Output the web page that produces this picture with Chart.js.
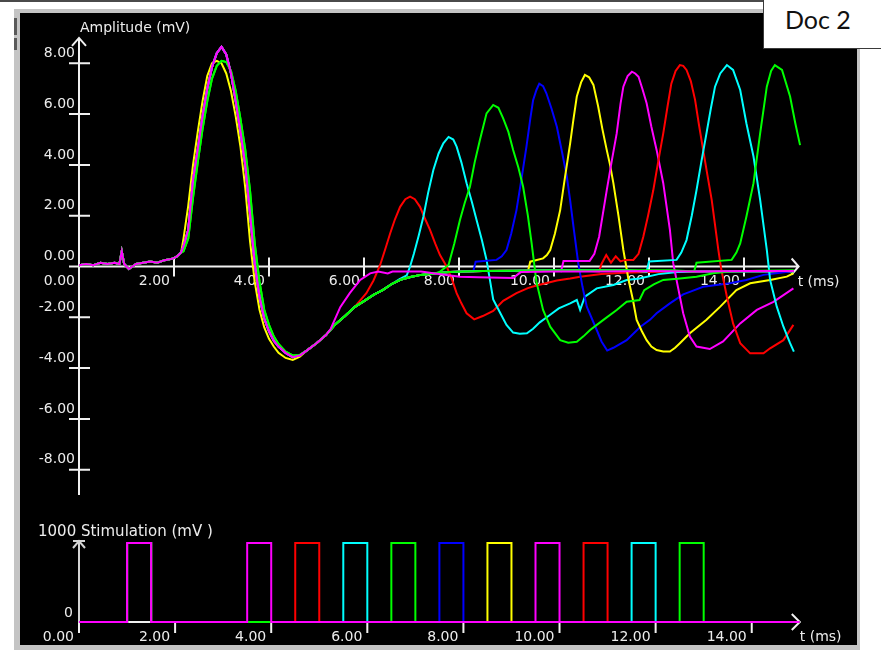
<!DOCTYPE html>
<html>
<head>
<meta charset="utf-8">
<script src="https://cdn.jsdelivr.net/npm/chart.js@4.4.1/dist/chart.umd.min.js"></script>
<style>
  html, body { margin: 0; padding: 0; background: #fff; }
  body { width: 881px; height: 658px; position: relative; overflow: hidden; }
  #topLine { position: absolute; left: 0; top: 0; width: 763px; height: 2px; background: #4a4a4a; }
  #panel { position: absolute; left: 14px; top: 9px; width: 837px; height: 632px; background: #000;
           border-style: solid; border-color: #c4c4c4; border-width: 4px 3px 5px 6px; }
  .grip { position: absolute; left: 14px; width: 3px; background: #5a5a5a; }
  #doc { position: absolute; left: 763px; top: 0; width: 118px; height: 49px; background: #fff;
         border-left: 1px solid #3a3a3a; border-bottom: 1px solid #3a3a3a; box-sizing: border-box; }
  #doc span { position: absolute; left: 21px; top: 7px; font: 25px Lato, "Noto Sans", sans-serif; line-height: 25px; color: #111; }
  canvas { position: absolute; left: 0; top: 0; }
</style>
</head>
<body>
<div id="topLine"></div>
<div id="panel"></div>
<div class="grip" style="top:18px;height:17px"></div>
<div class="grip" style="top:38px;height:12px"></div>
<div id="doc"><span>Doc 2</span></div>
<canvas id="ampChart" width="881" height="658"></canvas>
<canvas id="stimChart" width="881" height="658"></canvas>
<script>
// axes
const timeTicks = [0, 2, 4, 6, 8, 10, 12, 14];
const ampTicks = [-8, -6, -4, -2, 0, 2, 4, 6, 8];
const stimTicks = [0, 1000];

// first response, shared by every sweep (t in ms, mV)
const firstT = [0, 0.15, 0.3, 0.45, 0.6, 0.75, 0.85, 0.9, 0.95, 1.05,
  1.2, 1.35, 1.5, 1.65, 1.8, 1.95, 2.05, 2.15, 2.2, 2.3,
  2.4, 2.5, 2.6, 2.7, 2.8, 2.9, 3.0, 3.1, 3.2, 3.3,
  3.4, 3.5, 3.6, 3.7, 3.8, 3.9, 4.0, 4.1, 4.2, 4.35,
  4.5, 4.65, 4.8, 5.0, 5.2, 5.4, 5.6, 5.8, 6.0, 6.2,
  6.4, 6.6, 6.8, 7.0, 7.2, 7.5, 7.8, 8.1, 8.5, 9.0,
  9.5, 10.0, 10.5, 11.0, 11.5, 12.0, 12.5, 13.0];
const firstV = [0.05, 0.1, 0.05, 0.15, 0.1, 0.15, 0.1, 0.6, 0.1, -0.1,
  0.1, 0.15, 0.2, 0.15, 0.25, 0.3, 0.38, 0.55, 0.8, 1.45,
  3.4, 4.6, 5.9, 7.0, 7.85, 8.4, 8.65, 8.35, 7.6, 6.5,
  5.3, 4.0, 2.1, 0.1, -1.2, -2.05, -2.55, -2.92, -3.15, -3.4,
  -3.57, -3.5, -3.3, -3.02, -2.7, -2.27, -1.95, -1.6, -1.36, -1.12,
  -0.92, -0.67, -0.5, -0.4, -0.33, -0.27, -0.22, -0.2, -0.18, -0.17,
  -0.16, -0.15, -0.15, -0.15, -0.15, -0.15, -0.15, -0.15];

// yellow and green sweeps fire a little early / late
const spikeT = [2.2, 2.3, 2.4, 2.5, 2.6, 2.7, 2.8, 2.9, 3.0, 3.1, 3.2, 3.3, 3.4, 3.5, 3.6, 3.7, 3.8, 3.9, 4.0, 4.1, 4.2, 4.35, 4.5, 4.65];
const spikeYellowV = [1.1, 2.4, 4.0, 5.3, 6.5, 7.5, 8.0, 8.1, 8.0, 7.6, 6.9, 5.9, 4.7, 3.1, 1.0, -0.6, -1.7, -2.4, -2.85, -3.15, -3.4, -3.6, -3.68, -3.55];
const spikeGreenV = [0.6, 1.1, 2.7, 4.1, 5.4, 6.5, 7.4, 7.9, 8.1, 8.05, 7.7, 6.9, 5.8, 4.6, 3.0, 0.9, -0.6, -1.7, -2.3, -2.75, -3.05, -3.35, -3.5, -3.48];

// second response of each sweep
const magenta1T = [5.3, 5.5, 5.7, 5.92, 6.13, 6.3, 6.5, 6.6, 7.2, 7.46, 7.74, 8.02, 8.4, 9.14, 9.3, 10, 11, 12, 13, 14, 15.05];
const magenta1V = [-2.45, -1.6, -1.05, -0.53, -0.27, -0.2, -0.27, -0.2, -0.2, -0.27, -0.33, -0.4, -0.42, -0.45, -0.22, -0.2, -0.2, -0.18, -0.2, -0.18, -0.18];

const red1T = [5.8, 6.05, 6.2, 6.34, 6.45, 6.55, 6.65, 6.76, 6.87, 6.97, 7.07, 7.18, 7.28, 7.39, 7.5, 7.6, 7.74, 7.85, 7.95, 8.05,
  8.16, 8.32, 8.5, 8.72, 8.93, 9.21, 9.45, 9.63, 9.85, 10.06, 10.34, 10.55, 11, 11.5, 12, 13, 14, 15.05];
const red1V = [-1.6, -1.05, -0.55, 0.06, 0.7, 1.3, 1.85, 2.35, 2.65, 2.75, 2.65, 2.35, 1.9, 1.44, 0.9, 0.45, 0.0, -0.5, -1.05, -1.45,
  -1.84, -2.08, -1.95, -1.75, -1.35, -1.05, -0.85, -0.75, -0.65, -0.55, -0.47, -0.4, -0.3, -0.25, -0.22, -0.2, -0.2, -0.2];

const cyan1T = [6.75, 6.9, 6.97, 7.05, 7.15, 7.25, 7.35, 7.46, 7.57, 7.67, 7.78, 7.88, 7.95, 8.05, 8.16, 8.27, 8.37, 8.48, 8.58, 8.72,
  8.86, 9.0, 9.14, 9.28, 9.43, 9.56, 9.7, 9.92, 10.1, 10.34, 10.48, 10.55, 10.65, 10.9, 11.25, 11.53, 11.8, 12.2, 12.6, 13, 14, 15.05];
const cyan1V = [-0.5, -0.35, 0, 0.5, 1.2, 1.96, 2.9, 3.8, 4.45, 4.85, 5.1, 5.0, 4.72, 4.1, 3.28, 2.55, 1.83, 1.05, 0.26, -1.3,
  -1.8, -2.3, -2.6, -2.65, -2.63, -2.45, -2.2, -1.9, -1.65, -1.45, -1.32, -1.71, -1.19, -0.86, -0.73, -0.53, -0.47, -0.3, -0.22, -0.2, -0.2, -0.2];

const green1T = [7.6, 7.78, 7.9, 8.02, 8.12, 8.23, 8.33, 8.44, 8.58, 8.72, 8.83, 8.93, 9.04, 9.14, 9.25, 9.35, 9.45, 9.53, 9.63, 9.77,
  9.92, 10.13, 10.3, 10.48, 10.62, 10.76, 11.04, 11.32, 11.53, 11.8, 11.9, 12.1, 12.3, 12.65, 13.0, 13.35, 13.7, 14.3, 15.05];
const green1V = [-0.2, 0.06, 0.9, 1.83, 2.5, 3.14, 4.1, 4.98, 6.03, 6.36, 6.25, 5.83, 5.3, 4.59, 3.9, 3.14, 2.0, 0.9, -0.6, -1.71,
  -2.37, -2.9, -3.0, -2.96, -2.75, -2.5, -2.1, -1.71, -1.39, -1.32, -0.93, -0.7, -0.53, -0.47, -0.4, -0.27, -0.2, -0.17, -0.15];

const blue1T = [8.3, 8.35, 8.79, 8.9, 9.0, 9.1, 9.21, 9.32, 9.42, 9.5, 9.56, 9.63, 9.69, 9.77, 9.84, 9.95, 10.06, 10.17, 10.27, 10.34,
  10.41, 10.51, 10.6, 10.69, 10.9, 11.0, 11.12, 11.25, 11.53, 11.82, 12.02, 12.16, 12.44, 12.72, 12.86, 13.14, 13.7, 14.05, 14.41, 14.97];
const blue1V = [-0.2, 0.19, 0.26, 0.4, 0.65, 1.3, 2.22, 3.5, 4.72, 5.8, 6.55, 6.95, 7.2, 7.1, 6.82, 6.2, 5.5, 4.5, 3.54, 2.6,
  1.57, 0.13, -0.8, -1.58, -2.5, -2.95, -3.31, -3.2, -2.9, -2.37, -2.1, -1.84, -1.45, -1.1, -1.0, -0.8, -0.66, -0.53, -0.33, -0.2];

const yellow1T = [9.45, 9.5, 9.77, 9.85, 9.92, 10.02, 10.13, 10.23, 10.34, 10.41, 10.48, 10.57, 10.65, 10.74, 10.83, 10.93, 11.02, 11.11, 11.18, 11.25,
  11.36, 11.46, 11.57, 11.66, 11.74, 11.85, 11.95, 12.05, 12.16, 12.3, 12.44, 12.55, 12.65, 12.86, 13.21, 13.5, 13.84, 14.13, 14.55, 14.9, 15.04];
const yellow1V = [-0.2, 0.19, 0.32, 0.45, 0.65, 1.3, 2.22, 3.5, 4.85, 5.8, 6.69, 7.25, 7.54, 7.45, 7.15, 6.3, 5.4, 4.59, 4.0, 3.28,
  1.96, 0.65, -0.53, -1.3, -2.1, -2.55, -2.9, -3.15, -3.29, -3.35, -3.35, -3.2, -3.02, -2.63, -2.1, -1.58, -0.93, -0.66, -0.53, -0.4, -0.27];

const magenta2T = [10.15, 10.2, 10.75, 10.85, 10.95, 11.11, 11.22, 11.32, 11.4, 11.46, 11.55, 11.64, 11.71, 11.78, 11.86, 11.95, 12.05, 12.16, 12.3, 12.44,
  12.51, 12.58, 12.72, 12.86, 13.0, 13.28, 13.56, 13.92, 14.27, 14.62, 15.04];
const magenta2V = [-0.18, 0.22, 0.22, 0.5, 1.17, 3.0, 4.2, 5.24, 6.4, 7.08, 7.5, 7.67, 7.6, 7.47, 7.0, 6.43, 5.5, 4.59, 3.28, 1.44,
  0.13, -0.53, -1.84, -2.76, -3.15, -3.25, -2.95, -2.24, -1.71, -1.39, -0.86];

const red2T = [10.95, 11.0, 11.1, 11.2, 11.3, 11.4, 11.5, 11.67, 11.78, 11.88, 11.98, 12.09, 12.2, 12.3, 12.39, 12.47, 12.56, 12.65, 12.72, 12.79,
  12.88, 12.97, 13.05, 13.14, 13.23, 13.32, 13.46, 13.52, 13.64, 13.77, 13.92, 14.13, 14.41, 14.55, 14.83, 15.04];
const red2V = [-0.2, 0.1, 0.45, 0.15, 0.4, 0.2, 0.26, 0.26, 0.5, 1.17, 2.0, 3.0, 4.2, 5.24, 6.3, 7.2, 7.7, 7.93, 7.9, 7.74,
  7.3, 6.56, 5.6, 4.59, 3.6, 2.62, 0.65, -0.1, -1.19, -2.24, -3.02, -3.42, -3.42, -3.22, -2.9, -2.3];

const cyan2T = [11.95, 12.0, 12.58, 12.68, 12.79, 12.9, 13.0, 13.1, 13.21, 13.3, 13.39, 13.5, 13.64, 13.77, 13.92, 14.05, 14.2, 14.34, 14.48, 14.55,
  14.69, 14.83, 14.97, 15.05];
const cyan2V = [-0.2, 0.2, 0.26, 0.55, 1.04, 2.0, 3.0, 4.1, 5.24, 6.2, 7.08, 7.6, 7.93, 7.74, 6.95, 5.64, 4.33, 2.62, 0.65, -0.53,
  -1.58, -2.37, -3.02, -3.35];

const green2T = [12.95, 13.0, 13.74, 13.84, 13.92, 14.05, 14.2, 14.34, 14.48, 14.57, 14.65, 14.8, 14.97, 15.08, 15.18];
const green2V = [-0.2, 0.15, 0.26, 0.55, 0.91, 1.96, 3.28, 5.24, 7.08, 7.7, 7.93, 7.74, 6.69, 5.64, 4.78];

// stimulation (mV): conditioning pulse in all sweeps, then one test pulse per sweep
const condOn = 1.0, condOff = 1.5;
const stimOn = [3.5, 4.5, 5.5, 6.5, 7.5, 8.5, 9.5, 10.5, 11.5, 12.5];
const stimOff = [4.0, 5.0, 6.0, 7.0, 8.0, 9.0, 10.0, 11.0, 12.0, 13.0];
const stimLevel = 1000;
const stimEnd = 15.0;

const sweepColors = ['#ff00ff', '#ff0000', '#00ffff', '#00ff00', '#0000ff', '#ffff00', '#ff00ff', '#ff0000', '#00ffff', '#00ff00'];

const axisColor = '#f0f0f0';
const textColor = '#ececec';
const labelFont = '14px "DejaVu Sans"';


function sweepPoints(tailT, tailV, spikeV) {
    const pts = [];
    firstT.forEach((t, i) => {
        if (t >= tailT[0]) return;
        let v = firstV[i];
        const k = spikeV ? spikeT.indexOf(t) : -1;
        if (k >= 0) v = spikeV[k];
        pts.push({ x: t, y: v });
    });
    tailT.forEach((t, i) => pts.push({ x: t, y: tailV[i] }));
    return pts;
}

function stimPoints(i) {
    return [
        { x: 0, y: 0 }, { x: condOn, y: 0 }, { x: condOn, y: stimLevel }, { x: condOff, y: stimLevel }, { x: condOff, y: 0 },
        { x: stimOn[i], y: 0 }, { x: stimOn[i], y: stimLevel }, { x: stimOff[i], y: stimLevel }, { x: stimOff[i], y: 0 },
        { x: stimEnd, y: 0 }
    ];
}

const sweeps = [
    sweepPoints(magenta1T, magenta1V),
    sweepPoints(red1T, red1V),
    sweepPoints(cyan1T, cyan1V),
    sweepPoints(green1T, green1V, spikeGreenV),
    sweepPoints(blue1T, blue1V),
    sweepPoints(yellow1T, yellow1V, spikeYellowV),
    sweepPoints(magenta2T, magenta2V),
    sweepPoints(red2T, red2V),
    sweepPoints(cyan2T, cyan2V),
    sweepPoints(green2T, green2V, spikeGreenV)
];

// first dataset ends up on top
const drawOrder = [0, 3, 9, 8, 7, 6, 5, 4, 2, 1];

function lineSet(data, i) {
    return { data: data, borderColor: sweepColors[i], borderWidth: 2, pointRadius: 0, tension: 0, fill: false };
}

const ampAxes = {
    id: 'ampAxes',
    beforeDatasetsDraw(chart) {
        const { ctx, scales: { x, y } } = chart;
        const x0 = x.getPixelForValue(0), y0 = y.getPixelForValue(0);
        const xEnd = x.getPixelForValue(15.15);
        const yTop = y.getPixelForValue(9), yBot = y.getPixelForValue(-9);
        ctx.save();
        ctx.strokeStyle = axisColor;
        ctx.lineWidth = 2;
        ctx.beginPath();
        ctx.moveTo(x0 - 10, y0); ctx.lineTo(xEnd, y0);
        ctx.moveTo(x0, yTop); ctx.lineTo(x0, yBot);
        ctx.moveTo(xEnd - 7, y0 - 8); ctx.lineTo(xEnd, y0); ctx.lineTo(xEnd - 7, y0 + 8);
        ctx.moveTo(x0 - 7, yTop + 8); ctx.lineTo(x0, yTop); ctx.lineTo(x0 + 7, yTop + 8);
        ampTicks.forEach(v => {
            if (!v) return;
            const py = y.getPixelForValue(v);
            ctx.moveTo(x0 - 10, py); ctx.lineTo(x0 + 11, py);
        });
        timeTicks.forEach(t => {
            if (!t) return;
            const px = x.getPixelForValue(t);
            ctx.moveTo(px, y0 - 9); ctx.lineTo(px, y0 + 10);
        });
        ctx.stroke();

        ctx.fillStyle = textColor;
        ctx.font = labelFont;
        ctx.textAlign = 'right';
        ctx.textBaseline = 'middle';
        ampTicks.forEach(v => ctx.fillText(v.toFixed(2), x0 - 4, y.getPixelForValue(v) - 10));
        timeTicks.forEach(t => ctx.fillText(t.toFixed(2), x.getPixelForValue(t) - 4, y0 + 15));
        ctx.textAlign = 'left';
        ctx.fillText('Amplitude (mV)', x0 + 1, yTop - 10);
        ctx.fillText('t (ms)', xEnd - 1, y0 + 16);
        ctx.restore();
    }
};

const stimAxes = {
    id: 'stimAxes',
    beforeDatasetsDraw(chart) {
        const { ctx, scales: { x, y } } = chart;
        const x0 = x.getPixelForValue(0), y0 = y.getPixelForValue(0);
        const xEnd = x.getPixelForValue(stimEnd);
        const yTop = y.getPixelForValue(stimTicks[1]) - 2;
        ctx.save();
        ctx.strokeStyle = '#d4d4d4';
        ctx.lineWidth = 2;
        ctx.beginPath();
        ctx.moveTo(x0, yTop); ctx.lineTo(x0, y0 + 4);
        ctx.moveTo(x0 - 6, yTop); ctx.lineTo(x0 + 6, yTop);
        ctx.moveTo(x0 - 6, yTop + 7); ctx.lineTo(x0, yTop); ctx.lineTo(x0 + 6, yTop + 7);
        ctx.stroke();
        ctx.strokeStyle = axisColor;
        ctx.beginPath();
        ctx.moveTo(x0, y0); ctx.lineTo(xEnd, y0);
        ctx.moveTo(xEnd - 8, y0 - 8); ctx.lineTo(xEnd, y0); ctx.lineTo(xEnd - 8, y0 + 8);
        timeTicks.forEach(t => {
            const px = x.getPixelForValue(t);
            ctx.moveTo(px, y0 + 1); ctx.lineTo(px, y0 + 11);
        });
        ctx.stroke();

        ctx.fillStyle = textColor;
        ctx.font = labelFont;
        ctx.textAlign = 'right';
        ctx.textBaseline = 'middle';
        timeTicks.forEach(t => ctx.fillText(t.toFixed(2), x.getPixelForValue(t) - 5, y0 + 15));
        ctx.fillText(String(stimTicks[0]), x0 - 6, y0 - 9);
        ctx.textAlign = 'left';
        ctx.font = '15px "DejaVu Sans"';
        ctx.fillText(stimTicks[1] + ' Stimulation (mV )', 38, yTop - 9);
        ctx.font = labelFont;
        ctx.fillText('t (ms)', xEnd, y0 + 15);
        ctx.restore();
    }
};

const baseOptions = (padding, xMax, yMin, yMax) => ({
    responsive: false,
    animation: false,
    devicePixelRatio: 1,
    layout: { padding: padding },
    scales: {
        x: { type: 'linear', min: 0, max: xMax, display: false },
        y: { type: 'linear', min: yMin, max: yMax, display: false }
    },
    plugins: { legend: { display: false }, tooltip: { enabled: false } }
});

new Chart(document.getElementById('ampChart'), {
    type: 'line',
    data: { datasets: drawOrder.map(i => lineSet(sweeps[i], i)) },
    options: baseOptions({ left: 79, right: 75.25, top: 37.9, bottom: 162.9 }, 15.3, -9, 9),
    plugins: [ampAxes]
});

new Chart(document.getElementById('stimChart'), {
    type: 'line',
    data: { datasets: drawOrder.map(i => lineSet(stimPoints(i), i)) },
    options: baseOptions({ left: 79, right: 66.8, top: 535.1, bottom: 28.1 }, 15.3, -100, 1100),
    plugins: [stimAxes]
});
</script>
</body>
</html>
